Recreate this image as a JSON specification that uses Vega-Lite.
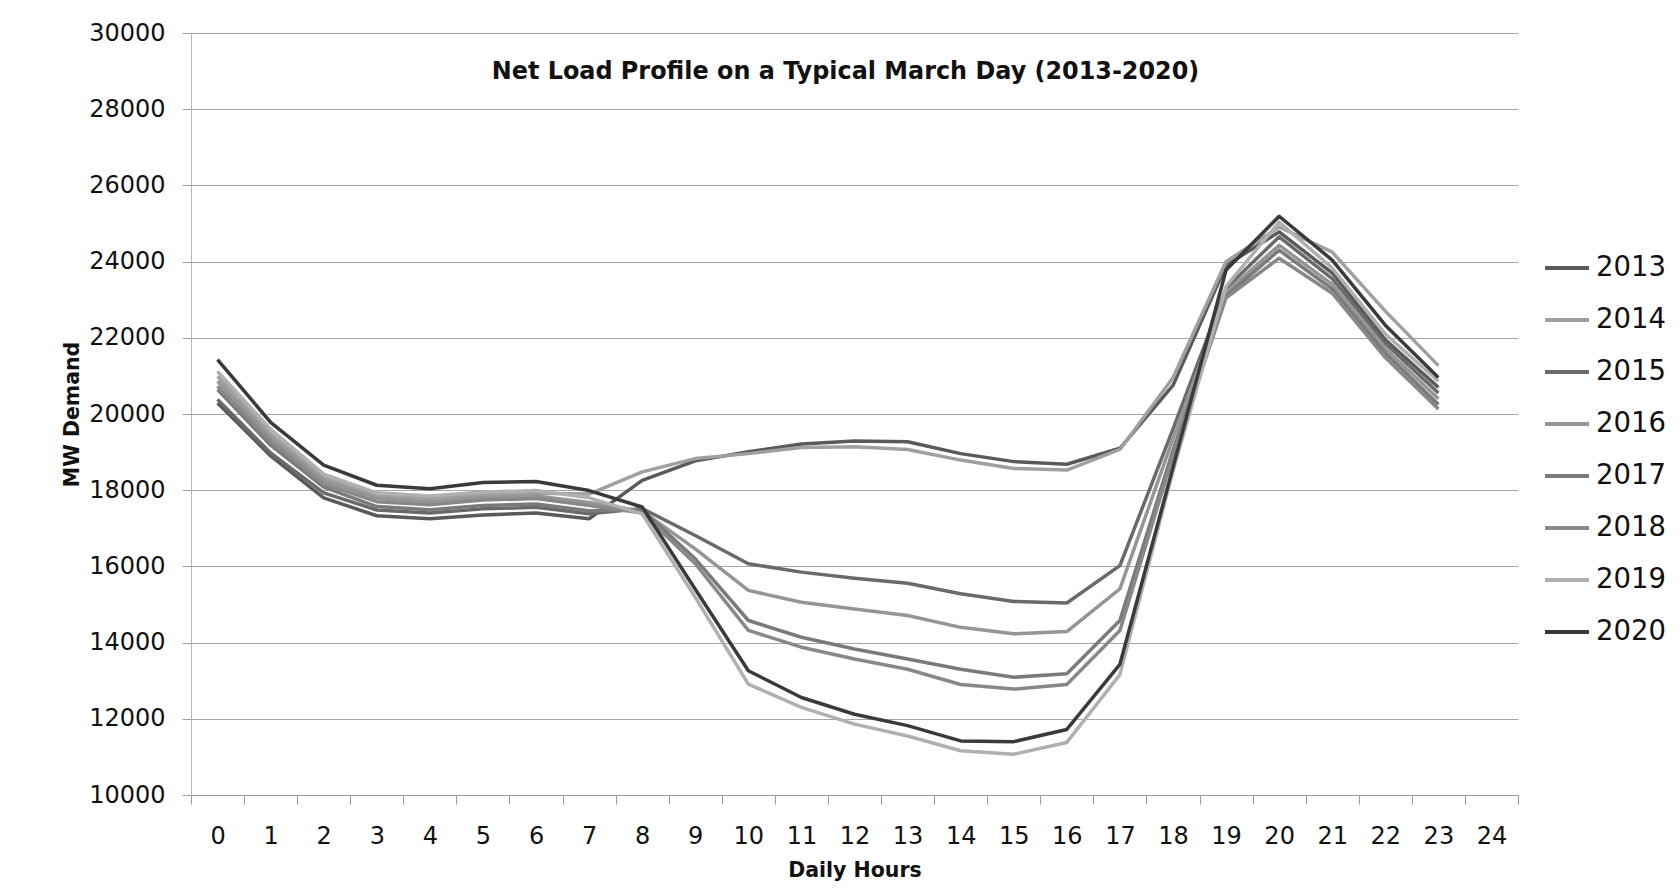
{
  "$schema": "https://vega.github.io/schema/vega-lite/v6.json",
  "width": 1327,
  "height": 762,
  "autosize": {"type": "none"},
  "padding": {"left": 191, "top": 33, "right": 162, "bottom": 93},
  "background": "white",
  "title": {
    "text": "Net Load Profile on a Typical March Day (2013-2020)",
    "font": "DejaVu Sans",
    "fontSize": 23.9,
    "fontWeight": "bold",
    "color": "#111111",
    "anchor": "middle",
    "orient": "top",
    "baseline": "alphabetic",
    "offset": -82,
    "dx": -9
  },
  "config": {"view": {"stroke": null}, "font": "DejaVu Sans"},
  "datasets": {
    "load": [
      {"year": "2013", "hour": 0, "mw": 20290}, {"year": "2013", "hour": 1, "mw": 18900}, {"year": "2013", "hour": 2, "mw": 17800}, {"year": "2013", "hour": 3, "mw": 17330}, {"year": "2013", "hour": 4, "mw": 17250}, {"year": "2013", "hour": 5, "mw": 17350}, {"year": "2013", "hour": 6, "mw": 17400}, {"year": "2013", "hour": 7, "mw": 17250}, {"year": "2013", "hour": 8, "mw": 18260}, {"year": "2013", "hour": 9, "mw": 18770}, {"year": "2013", "hour": 10, "mw": 19010}, {"year": "2013", "hour": 11, "mw": 19210}, {"year": "2013", "hour": 12, "mw": 19290}, {"year": "2013", "hour": 13, "mw": 19270}, {"year": "2013", "hour": 14, "mw": 18960}, {"year": "2013", "hour": 15, "mw": 18750}, {"year": "2013", "hour": 16, "mw": 18680}, {"year": "2013", "hour": 17, "mw": 19100}, {"year": "2013", "hour": 18, "mw": 20750}, {"year": "2013", "hour": 19, "mw": 23900}, {"year": "2013", "hour": 20, "mw": 24780}, {"year": "2013", "hour": 21, "mw": 23700}, {"year": "2013", "hour": 22, "mw": 21950}, {"year": "2013", "hour": 23, "mw": 20700},
      {"year": "2014", "hour": 0, "mw": 20990}, {"year": "2014", "hour": 1, "mw": 19480}, {"year": "2014", "hour": 2, "mw": 18330}, {"year": "2014", "hour": 3, "mw": 17850}, {"year": "2014", "hour": 4, "mw": 17780}, {"year": "2014", "hour": 5, "mw": 17880}, {"year": "2014", "hour": 6, "mw": 17920}, {"year": "2014", "hour": 7, "mw": 17900}, {"year": "2014", "hour": 8, "mw": 18480}, {"year": "2014", "hour": 9, "mw": 18830}, {"year": "2014", "hour": 10, "mw": 18960}, {"year": "2014", "hour": 11, "mw": 19120}, {"year": "2014", "hour": 12, "mw": 19140}, {"year": "2014", "hour": 13, "mw": 19070}, {"year": "2014", "hour": 14, "mw": 18790}, {"year": "2014", "hour": 15, "mw": 18570}, {"year": "2014", "hour": 16, "mw": 18530}, {"year": "2014", "hour": 17, "mw": 19070}, {"year": "2014", "hour": 18, "mw": 20950}, {"year": "2014", "hour": 19, "mw": 24000}, {"year": "2014", "hour": 20, "mw": 24910}, {"year": "2014", "hour": 21, "mw": 24250}, {"year": "2014", "hour": 22, "mw": 22700}, {"year": "2014", "hour": 23, "mw": 21270},
      {"year": "2015", "hour": 0, "mw": 20380}, {"year": "2015", "hour": 1, "mw": 18980}, {"year": "2015", "hour": 2, "mw": 17930}, {"year": "2015", "hour": 3, "mw": 17480}, {"year": "2015", "hour": 4, "mw": 17400}, {"year": "2015", "hour": 5, "mw": 17510}, {"year": "2015", "hour": 6, "mw": 17550}, {"year": "2015", "hour": 7, "mw": 17380}, {"year": "2015", "hour": 8, "mw": 17520}, {"year": "2015", "hour": 9, "mw": 16810}, {"year": "2015", "hour": 10, "mw": 16070}, {"year": "2015", "hour": 11, "mw": 15850}, {"year": "2015", "hour": 12, "mw": 15690}, {"year": "2015", "hour": 13, "mw": 15560}, {"year": "2015", "hour": 14, "mw": 15280}, {"year": "2015", "hour": 15, "mw": 15080}, {"year": "2015", "hour": 16, "mw": 15040}, {"year": "2015", "hour": 17, "mw": 16020}, {"year": "2015", "hour": 18, "mw": 19600}, {"year": "2015", "hour": 19, "mw": 23300}, {"year": "2015", "hour": 20, "mw": 24650}, {"year": "2015", "hour": 21, "mw": 23550}, {"year": "2015", "hour": 22, "mw": 21850}, {"year": "2015", "hour": 23, "mw": 20550},
      {"year": "2016", "hour": 0, "mw": 20860}, {"year": "2016", "hour": 1, "mw": 19380}, {"year": "2016", "hour": 2, "mw": 18250}, {"year": "2016", "hour": 3, "mw": 17780}, {"year": "2016", "hour": 4, "mw": 17700}, {"year": "2016", "hour": 5, "mw": 17810}, {"year": "2016", "hour": 6, "mw": 17850}, {"year": "2016", "hour": 7, "mw": 17680}, {"year": "2016", "hour": 8, "mw": 17450}, {"year": "2016", "hour": 9, "mw": 16460}, {"year": "2016", "hour": 10, "mw": 15370}, {"year": "2016", "hour": 11, "mw": 15060}, {"year": "2016", "hour": 12, "mw": 14880}, {"year": "2016", "hour": 13, "mw": 14710}, {"year": "2016", "hour": 14, "mw": 14400}, {"year": "2016", "hour": 15, "mw": 14230}, {"year": "2016", "hour": 16, "mw": 14290}, {"year": "2016", "hour": 17, "mw": 15410}, {"year": "2016", "hour": 18, "mw": 19350}, {"year": "2016", "hour": 19, "mw": 23200}, {"year": "2016", "hour": 20, "mw": 24430}, {"year": "2016", "hour": 21, "mw": 23400}, {"year": "2016", "hour": 22, "mw": 21720}, {"year": "2016", "hour": 23, "mw": 20400},
      {"year": "2017", "hour": 0, "mw": 20640}, {"year": "2017", "hour": 1, "mw": 19180}, {"year": "2017", "hour": 2, "mw": 18080}, {"year": "2017", "hour": 3, "mw": 17570}, {"year": "2017", "hour": 4, "mw": 17490}, {"year": "2017", "hour": 5, "mw": 17600}, {"year": "2017", "hour": 6, "mw": 17640}, {"year": "2017", "hour": 7, "mw": 17460}, {"year": "2017", "hour": 8, "mw": 17480}, {"year": "2017", "hour": 9, "mw": 16200}, {"year": "2017", "hour": 10, "mw": 14580}, {"year": "2017", "hour": 11, "mw": 14140}, {"year": "2017", "hour": 12, "mw": 13830}, {"year": "2017", "hour": 13, "mw": 13570}, {"year": "2017", "hour": 14, "mw": 13300}, {"year": "2017", "hour": 15, "mw": 13090}, {"year": "2017", "hour": 16, "mw": 13180}, {"year": "2017", "hour": 17, "mw": 14580}, {"year": "2017", "hour": 18, "mw": 19050}, {"year": "2017", "hour": 19, "mw": 23100}, {"year": "2017", "hour": 20, "mw": 24300}, {"year": "2017", "hour": 21, "mw": 23280}, {"year": "2017", "hour": 22, "mw": 21600}, {"year": "2017", "hour": 23, "mw": 20250},
      {"year": "2018", "hour": 0, "mw": 20730}, {"year": "2018", "hour": 1, "mw": 19280}, {"year": "2018", "hour": 2, "mw": 18160}, {"year": "2018", "hour": 3, "mw": 17700}, {"year": "2018", "hour": 4, "mw": 17620}, {"year": "2018", "hour": 5, "mw": 17740}, {"year": "2018", "hour": 6, "mw": 17780}, {"year": "2018", "hour": 7, "mw": 17600}, {"year": "2018", "hour": 8, "mw": 17400}, {"year": "2018", "hour": 9, "mw": 16070}, {"year": "2018", "hour": 10, "mw": 14320}, {"year": "2018", "hour": 11, "mw": 13880}, {"year": "2018", "hour": 12, "mw": 13570}, {"year": "2018", "hour": 13, "mw": 13300}, {"year": "2018", "hour": 14, "mw": 12900}, {"year": "2018", "hour": 15, "mw": 12780}, {"year": "2018", "hour": 16, "mw": 12900}, {"year": "2018", "hour": 17, "mw": 14320}, {"year": "2018", "hour": 18, "mw": 18900}, {"year": "2018", "hour": 19, "mw": 23050}, {"year": "2018", "hour": 20, "mw": 24090}, {"year": "2018", "hour": 21, "mw": 23170}, {"year": "2018", "hour": 22, "mw": 21480}, {"year": "2018", "hour": 23, "mw": 20130},
      {"year": "2019", "hour": 0, "mw": 21120}, {"year": "2019", "hour": 1, "mw": 19600}, {"year": "2019", "hour": 2, "mw": 18420}, {"year": "2019", "hour": 3, "mw": 17930}, {"year": "2019", "hour": 4, "mw": 17850}, {"year": "2019", "hour": 5, "mw": 17950}, {"year": "2019", "hour": 6, "mw": 17990}, {"year": "2019", "hour": 7, "mw": 17800}, {"year": "2019", "hour": 8, "mw": 17380}, {"year": "2019", "hour": 9, "mw": 15190}, {"year": "2019", "hour": 10, "mw": 12910}, {"year": "2019", "hour": 11, "mw": 12300}, {"year": "2019", "hour": 12, "mw": 11860}, {"year": "2019", "hour": 13, "mw": 11550}, {"year": "2019", "hour": 14, "mw": 11160}, {"year": "2019", "hour": 15, "mw": 11070}, {"year": "2019", "hour": 16, "mw": 11380}, {"year": "2019", "hour": 17, "mw": 13160}, {"year": "2019", "hour": 18, "mw": 18500}, {"year": "2019", "hour": 19, "mw": 23350}, {"year": "2019", "hour": 20, "mw": 25040}, {"year": "2019", "hour": 21, "mw": 23830}, {"year": "2019", "hour": 22, "mw": 22100}, {"year": "2019", "hour": 23, "mw": 20860},
      {"year": "2020", "hour": 0, "mw": 21430}, {"year": "2020", "hour": 1, "mw": 19780}, {"year": "2020", "hour": 2, "mw": 18660}, {"year": "2020", "hour": 3, "mw": 18130}, {"year": "2020", "hour": 4, "mw": 18040}, {"year": "2020", "hour": 5, "mw": 18200}, {"year": "2020", "hour": 6, "mw": 18230}, {"year": "2020", "hour": 7, "mw": 17990}, {"year": "2020", "hour": 8, "mw": 17560}, {"year": "2020", "hour": 9, "mw": 15400}, {"year": "2020", "hour": 10, "mw": 13260}, {"year": "2020", "hour": 11, "mw": 12560}, {"year": "2020", "hour": 12, "mw": 12120}, {"year": "2020", "hour": 13, "mw": 11820}, {"year": "2020", "hour": 14, "mw": 11420}, {"year": "2020", "hour": 15, "mw": 11400}, {"year": "2020", "hour": 16, "mw": 11720}, {"year": "2020", "hour": 17, "mw": 13430}, {"year": "2020", "hour": 18, "mw": 18600}, {"year": "2020", "hour": 19, "mw": 23780}, {"year": "2020", "hour": 20, "mw": 25190}, {"year": "2020", "hour": 21, "mw": 24040}, {"year": "2020", "hour": 22, "mw": 22330}, {"year": "2020", "hour": 23, "mw": 20960}
    ]
  },
  "data": {"name": "load"},
  "mark": {"type": "line", "strokeWidth": 3.5, "strokeJoin": "round"},
  "encoding": {
    "x": {
      "field": "hour",
      "type": "ordinal",
      "bandPosition": 0.5,
      "scale": {"type": "band", "domain": [0,1,2,3,4,5,6,7,8,9,10,11,12,13,14,15,16,17,18,19,20,21,22,23,24], "paddingInner": 0, "paddingOuter": 0},
      "axis": {
        "title": "Daily Hours",
        "titleFont": "DejaVu Sans",
        "titleFontSize": 20.5,
        "titleFontWeight": "bold",
        "titleColor": "#111111",
        "titlePadding": 12,
        "labelFont": "DejaVu Sans",
        "labelFontSize": 24,
        "labelColor": "#111111",
        "labelAngle": 0,
        "labelPadding": 20,
        "tickBand": "extent",
        "tickSize": 9,
        "tickColor": "#999999",
        "domainColor": "#999999",
        "grid": false
      }
    },
    "y": {
      "field": "mw",
      "type": "quantitative",
      "scale": {"domain": [10000, 30000], "nice": false, "zero": false},
      "axis": {
        "title": "MW Demand",
        "titleFont": "DejaVu Sans",
        "titleFontSize": 20.5,
        "titleFontWeight": "bold",
        "titleColor": "#111111",
        "titlePadding": 6,
        "values": [10000, 12000, 14000, 16000, 18000, 20000, 22000, 24000, 26000, 28000, 30000],
        "format": "d",
        "labelFont": "DejaVu Sans",
        "labelFontSize": 24,
        "labelColor": "#111111",
        "labelPadding": 17,
        "tickSize": 9,
        "tickColor": "#a0a0a0",
        "domainColor": "#b5b5b5",
        "grid": true,
        "gridColor": "#a6a6a6",
        "gridWidth": 1
      }
    },
    "color": {
      "field": "year",
      "type": "nominal",
      "scale": {
        "domain": ["2013", "2014", "2015", "2016", "2017", "2018", "2019", "2020"],
        "range": ["#5a5a5a", "#a0a0a0", "#6a6a6a", "#959595", "#7a7a7a", "#888888", "#b0b0b0", "#3a3a3a"]
      },
      "legend": {
        "title": null,
        "orient": "none",
        "legendX": 1352,
        "legendY": 211,
        "padding": 0,
        "symbolType": "stroke",
        "symbolSize": 1936,
        "symbolStrokeWidth": 4,
        "labelFont": "DejaVu Sans",
        "labelFontSize": 27.5,
        "labelColor": "#111111",
        "labelOffset": 5,
        "rowPadding": 14
      }
    }
  }
}
